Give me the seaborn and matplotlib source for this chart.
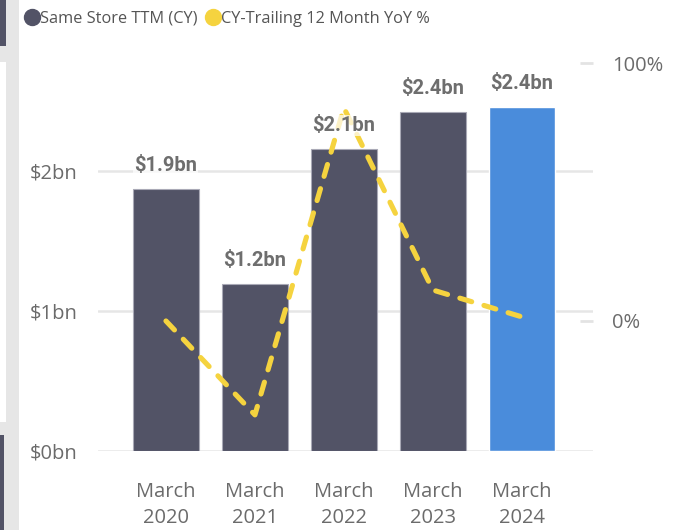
import numpy as np
import pandas as pd
import matplotlib
matplotlib.use("Agg")
import matplotlib.pyplot as plt
from matplotlib.lines import Line2D
from matplotlib.patches import Rectangle
import seaborn as sns

# data
months = ["March\n2020", "March\n2021", "March\n2022", "March\n2023", "March\n2024"]
same_store_bn = [1.87, 1.19, 2.155, 2.42, 2.457]
value_labels = ["$1.9bn", "$1.2bn", "$2.1bn", "$2.4bn", "$2.4bn"]
yoy_pct = [0.0, -0.364, 0.826, 0.12, 0.016]

dark = "#525366"
blue = "#4A8CDB"
yellow = "#F5D33F"
grey_txt = "#6b6b6b"

sns.set_theme(style="white")
plt.rcParams["font.family"] = ["Open Sans", "DejaVu Sans"]

df = pd.DataFrame({"month": months, "value": same_store_bn, "yoy": yoy_pct,
                   "pos": np.arange(len(months))})

fig = plt.figure(figsize=(6.78, 5.30), dpi=100)
ax = fig.add_axes([98 / 678, 1 - 451 / 530, (593 - 98) / 678, (451 - 63) / 530])

bar_colors = [dark] * (len(months) - 1) + [blue]
sns.barplot(data=df, x="month", y="value", hue="month", palette=bar_colors,
            legend=False, width=0.74, ax=ax, saturation=1, zorder=2)
for patch, col in zip(ax.patches, bar_colors):
    if col == dark:
        patch.set_edgecolor("#a9a9b6")
        patch.set_linewidth(0.8)

ax.set_xlim(-0.764, 4.80)
ax.set_ylim(0, 2.771)
ax.set_yticks([0, 1, 2])
ax.set_yticklabels(["$0bn", "$1bn", "$2bn"])
ax.yaxis.grid(True, color="#e6e6e6", linewidth=1.8, zorder=0)
ax.set_axisbelow(True)
ax.set_xlabel("")
ax.set_ylabel("")
ax.tick_params(axis="y", length=0, pad=15, labelsize=14.5, labelcolor=grey_txt)
ax.tick_params(axis="x", length=0, pad=22, labelsize=14.5, labelcolor=grey_txt)
for lab in ax.get_xticklabels():
    lab.set_linespacing(1.45)
for s in ax.spines.values():
    s.set_visible(False)

ax2 = ax.twinx()
sns.lineplot(data=df, x="pos", y="yoy", ax=ax2, color=yellow, linewidth=3.7,
             linestyle=(0, (2.4, 2.5)), zorder=3)
ax2.lines[0].set_dash_capstyle("round")
ax2.lines[0].set_solid_capstyle("round")
ax2.set_ylim(-0.504, 1.0)
ax2.set_yticks([0, 1])
ax2.set_yticklabels(["0%", "100%"])
ax2.set_ylabel("")
ax2.set_xlabel("")
ax2.tick_params(axis="y", direction="in", length=9.5, width=2, color="#e3e3e3",
                pad=14, labelsize=14.5, labelcolor=grey_txt)
for s in ax2.spines.values():
    s.set_visible(False)
ax2.set_xlim(-0.764, 4.80)

# data labels above bars, on top of the line
for i, (v, t) in enumerate(zip(same_store_bn, value_labels)):
    ax2.annotate(t, xy=(i, ax2.transData.inverted().transform(
                 ax.transData.transform((i, v)))[1]),
                 xytext=(0, 10), textcoords="offset points", ha="center",
                 va="bottom", fontsize=14.5, fontweight="bold", color="#6e6e6e",
                 family=["Roboto", "DejaVu Sans"], zorder=5, annotation_clip=False,
                 bbox=dict(boxstyle="square,pad=0.05", fc="white", ec="none", alpha=0.7))

# legend
handles = [Line2D([], [], marker="o", ls="none", markersize=11.5, color=dark),
           Line2D([], [], marker="o", ls="none", markersize=11.5, color=yellow)]
fig.legend(handles, ["Same Store TTM (CY)", "CY-Trailing 12 Month YoY %"],
           loc="upper left", bbox_to_anchor=(9 / 678, 1 + 4 / 530), ncol=2,
           frameon=False, handletextpad=0.0, columnspacing=0.45,
           handlelength=1.0, fontsize=11.8, labelcolor="#555555")

# panel edge on the left
fig.patches.append(Rectangle((0, 0), 19 / 678, 1, transform=fig.transFigure,
                             fc="#e6e6e6", ec="none", zorder=0))
fig.patches.append(Rectangle((0, 1 - 422 / 530), 6 / 678, (422 - 62) / 530,
                             transform=fig.transFigure, fc="white", ec="none", zorder=1))
fig.patches.append(Rectangle((0, 1 - 46 / 530), 6 / 678, 46 / 530,
                             transform=fig.transFigure, fc=dark, ec="none", zorder=1))
fig.patches.append(Rectangle((0, 0), 4 / 678, 1 - 435 / 530,
                             transform=fig.transFigure, fc=dark, ec="none", zorder=1))

fig.savefig("out.png", dpi=100)
